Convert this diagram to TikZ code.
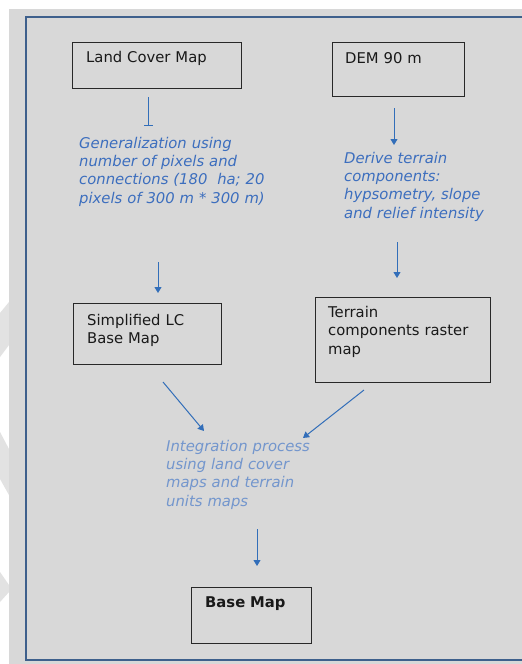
\documentclass[tikz,border=0pt]{standalone}
\usepackage{fontspec}
\setmainfont{DejaVu Sans}
\usetikzlibrary{arrows.meta}
\definecolor{panel}{RGB}{216,216,216}
\definecolor{frameblue}{RGB}{62,96,140}
\definecolor{txtblue}{RGB}{60,110,190}
\definecolor{txtlight}{RGB}{115,150,205}
\definecolor{arrblue}{RGB}{50,110,185}
\definecolor{wmark}{RGB}{226,226,226}
\definecolor{boxline}{RGB}{40,40,40}
\tikzset{
  mapbox/.style={draw=boxline, line width=1.4pt, inner sep=0pt, anchor=north west},
  boxtxt/.style={anchor=base west, inner sep=0pt, text width=190pt, align=left,
    font=\fontsize{14.8}{18.5}\selectfont, text=black!90},
  steptxt/.style={anchor=base west, inner sep=0pt, text width=210pt, align=left,
    font=\fontsize{14.8}{18.4}\selectfont\itshape, text=txtblue},
  flow/.style={draw=arrblue, line width=1pt, -{Triangle[width=7pt,length=6pt]}},
  barflow/.style={draw=arrblue, line width=1pt, -{Bar[width=9pt]}}
}
\begin{document}
\begin{tikzpicture}[x=1pt,y=-1pt]
\useasboundingbox (0,0) rectangle (522,664);
\fill[white] (0,0) rectangle (522,664);
% faint watermark pieces on the left margin
\fill[wmark] (0,313) -- (9,302) -- (9,345) -- (0,357) -- cycle;
\fill[wmark] (0,432) -- (9,449) -- (9,495) -- (0,479) -- cycle;
\fill[wmark] (0,572) -- (9,585) -- (9,592) -- (0,602) -- cycle;
% grey panel and blue frame
\fill[panel] (9,9) rectangle (522,664);
\draw[frameblue, line width=2.2pt] (524,17) -- (26,17) -- (26,660) -- (524,660);

% boxes
\node[mapbox, minimum width=169pt, minimum height=46pt] (lc) at (72,42) {};
\node[boxtxt] (lct) at (86,62) {Land Cover Map};
\node[mapbox, minimum width=132pt, minimum height=54pt] (dem) at (332,42) {};
\node[boxtxt] (demt) at (345,63) {DEM 90 m};
\node[mapbox, minimum width=148pt, minimum height=61pt] (slc) at (73,303) {};
\node[boxtxt] (slct) at (87,325) {Simplified LC\\Base Map};
\node[mapbox, minimum width=175pt, minimum height=85pt] (trc) at (315,297) {};
\node[boxtxt] (trct) at (328,317) {Terrain\\components raster\\map};
\node[mapbox, minimum width=120pt, minimum height=56pt] (base) at (191,587) {};
\node[boxtxt, font=\fontsize{14.8}{18.5}\selectfont\bfseries] (baset) at (205,607) {Base Map};

% process texts
\node[steptxt] (gen) at (79,148) {Generalization using\\number of pixels and\\connections (180~ ha; 20\\pixels of 300 m * 300 m)};
\node[steptxt] (der) at (344,163) {Derive terrain\\components:\\hypsometry, slope\\and relief intensity};
\node[steptxt, text=txtlight] (int) at (166,451) {Integration process\\using land cover\\maps and terrain\\units maps};

% arrow end points
\coordinate (a1s) at (148,97);  \coordinate (a1e) at (148,126);
\coordinate (a2s) at (394,108); \coordinate (a2e) at (394,145);
\coordinate (a3s) at (158,262); \coordinate (a3e) at (158,293);
\coordinate (a4s) at (397,242); \coordinate (a4e) at (397,278);
\coordinate (a5s) at (163,382); \coordinate (a5e) at (204,431);
\coordinate (a6s) at (364,390); \coordinate (a6e) at (303,438);
\coordinate (a7s) at (257,529); \coordinate (a7e) at (257,566);

\draw[barflow] (a1s) -- (a1e);
\draw[flow] (a2s) -- (a2e);
\draw[flow] (a3s) -- (a3e);
\draw[flow] (a4s) -- (a4e);
\draw[flow] (a5s) -- (a5e);
\draw[flow] (a6s) -- (a6e);
\draw[flow] (a7s) -- (a7e);
\end{tikzpicture}
\end{document}
